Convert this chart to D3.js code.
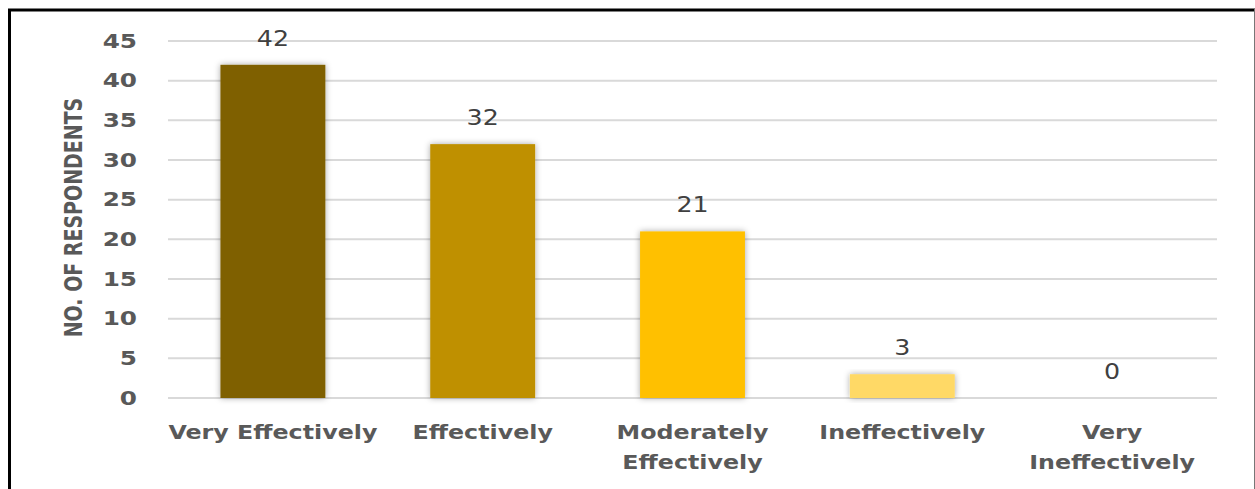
<!DOCTYPE html>
<html>
<head>
<meta charset="utf-8">
<script src="https://cdn.jsdelivr.net/npm/d3@7"></script>
<style>
body { margin: 0; background: #fff; }
svg { display: block; font-family: "DejaVu Sans", sans-serif; }
</style>
</head>
<body>
<svg id="chart" width="1255" height="489"></svg>
<script>
// data
var categories = ["Very Effectively", "Effectively", "Moderately Effectively", "Ineffectively", "Very Ineffectively"];
var labelLines = [["Very Effectively"], ["Effectively"], ["Moderately", "Effectively"], ["Ineffectively"], ["Very", "Ineffectively"]];
var respondents = [42, 32, 21, 3, 0];
var colors = ["#7f6000", "#bf9000", "#ffc000", "#ffd966", "#fff2cc"];
var yTicks = [0, 5, 10, 15, 20, 25, 30, 35, 40, 45];

var svg = d3.select("#chart");

var margin = {left: 168, right: 38, top: 41, bottom: 91};
var width = 1255 - margin.left - margin.right,
    height = 489 - margin.top - margin.bottom;

// the original picture is stretched sideways, so the text is too
var stretch = 1.3;

// frame
svg.append("line").attr("x1", 8).attr("x2", 1255).attr("y1", 10).attr("y2", 10)
    .attr("stroke", "#000").attr("stroke-width", 3);
svg.append("line").attr("x1", 9.5).attr("x2", 9.5).attr("y1", 9).attr("y2", 489)
    .attr("stroke", "#000").attr("stroke-width", 3);
svg.append("line").attr("x1", 1254.5).attr("x2", 1254.5).attr("y1", 9).attr("y2", 489)
    .attr("stroke", "#777").attr("stroke-width", 1);

var defs = svg.append("defs");
var filter = defs.append("filter").attr("id", "shadow")
    .attr("x", "-20%").attr("y", "-20%").attr("width", "140%").attr("height", "140%");
filter.append("feDropShadow").attr("dx", 0).attr("dy", 0).attr("stdDeviation", 3)
    .attr("flood-color", "#000").attr("flood-opacity", 0.35);

var g = svg.append("g").attr("transform", "translate(" + margin.left + "," + margin.top + ")");

var x = d3.scaleBand().domain(categories).range([0, width]).paddingInner(0.5).paddingOuter(0.25);
var y = d3.scaleLinear().domain([0, 45]).range([height, 0]);

// gridlines
g.append("g").selectAll("line")
    .data(yTicks)
    .enter().append("line")
    .attr("x1", 0).attr("x2", width)
    .attr("y1", function(d) { return y(d); })
    .attr("y2", function(d) { return y(d); })
    .attr("stroke", "#d9d9d9").attr("stroke-width", 2);

var yAxis = g.append("g")
    .call(d3.axisLeft(y).tickValues(yTicks).tickSize(0));
yAxis.select(".domain").remove();
yAxis.selectAll("text")
    .attr("x", 0)
    .attr("transform", "translate(-31,0) scale(" + stretch + ",1)")
    .attr("fill", "#595959")
    .attr("font-weight", "bold")
    .attr("font-family", "DejaVu Sans")
    .style("font-size", "19px");

// bars
g.append("g").selectAll("rect")
    .data(respondents)
    .enter().append("rect")
    .attr("x", function(d, i) { return x(categories[i]); })
    .attr("width", x.bandwidth())
    .attr("y", function(d) { return y(d); })
    .attr("height", function(d) { return height - y(d); })
    .attr("fill", function(d, i) { return colors[i]; })
    .attr("filter", "url(#shadow)");

// value labels
g.append("g").selectAll("text")
    .data(respondents)
    .enter().append("text")
    .attr("transform", function(d, i) {
        return "translate(" + (x(categories[i]) + x.bandwidth() / 2) + "," + (y(d) - 19) + ") scale(1.15,1)";
    })
    .attr("text-anchor", "middle")
    .attr("fill", "#404040")
    .style("font-size", "22px")
    .text(function(d) { return d; });

// category labels
var xl = g.append("g").selectAll("text")
    .data(labelLines)
    .enter().append("text")
    .attr("text-anchor", "middle")
    .attr("fill", "#595959")
    .attr("font-weight", "bold")
    .style("font-size", "19px")
    .attr("transform", function(d, i) {
        return "translate(" + (x(categories[i]) + x.bandwidth() / 2) + "," + (height + 41) + ") scale(1.25,1)";
    });
xl.selectAll("tspan")
    .data(function(d) { return d; })
    .enter().append("tspan")
    .attr("x", 0)
    .attr("dy", function(d, i) { return i == 0 ? 0 : 30; })
    .text(function(d) { return d; });

// y title
svg.append("text")
    .attr("transform", "translate(82," + (margin.top + height / 2 - 2) + ") scale(" + stretch + ",1) rotate(-90)")
    .attr("text-anchor", "middle")
    .attr("fill", "#595959")
    .attr("font-weight", "bold")
    .style("font-size", "19px")
    .text("NO. OF RESPONDENTS");
</script>
</body>
</html>
